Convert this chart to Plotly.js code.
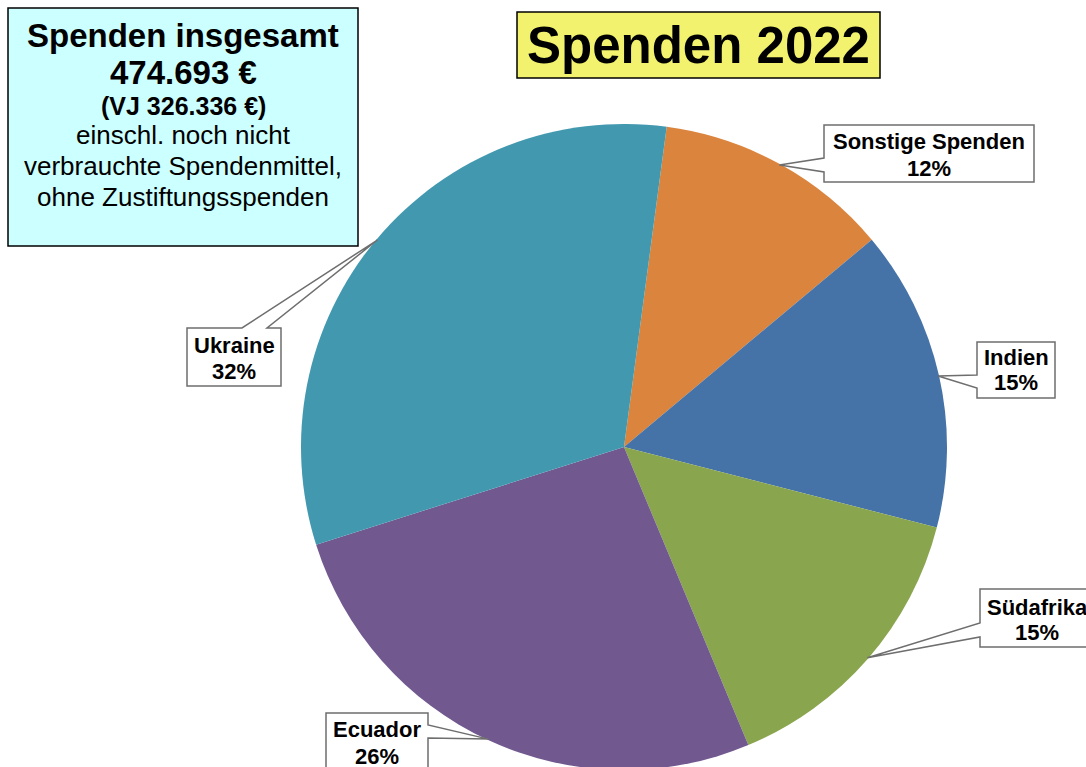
<!DOCTYPE html>
<html><head><meta charset="utf-8">
<script src="https://cdn.plot.ly/plotly-3.0.1.min.js"></script>
<style>html,body{margin:0;padding:0;overflow:hidden;background:#fff}#wrap{width:1086px;height:767px;overflow:hidden}#chart{width:1086px;height:790px}</style>
</head><body><div id="wrap"><div id="chart"></div></div>
<script>
// ---- data ----
const categories = ['Sonstige Spenden', 'Indien', 'Südafrika', 'Ecuador', 'Ukraine'];
const shares = [11.8, 15.1, 14.7, 26.4, 32.0];
const sliceColors = ['#DB843D', '#4572A7', '#89A54E', '#71588F', '#4198AF'];
const chartTitle = 'Spenden 2022';
const infoLines = ['Spenden insgesamt', '474.693 €', '(VJ 326.336 €)', 'einschl. noch nicht', 'verbrauchte Spendenmittel,', 'ohne Zustiftungsspenden'];

// ---- layout geometry (pixels) ----
const W = 1086, H = 790;
const cx = 624, cy = 447, R = 323;
const rotation = 7.6;
const px = x => x / W;
const py = y => 1 - y / H;
const FONT = 'Arial, "Liberation Sans", sans-serif';

const total = shares.reduce((a, b) => a + b, 0);
let cum = 0;
const tips = shares.map(v => {
  const a = (rotation + (cum + v / 2) / total * 360) * Math.PI / 180;
  cum += v;
  return [cx + (R - 1) * Math.sin(a), cy - (R - 1) * Math.cos(a)];
});

// callout outlines: null marks the point where the pointer tip goes
const callouts = [
  {pts: [[824,125],[1034,125],[1034,182],[824,182],[824,172],null,[824,158]], tx: 929, ty: [141,168]},
  {pts: [[977,342],[1055,342],[1055,398],[977,398],[977,388],null,[977,375]], tx: 1016, ty: [357,383]},
  {pts: [[980,589],[1110,589],[1110,647],[980,647],[980,637],null,[980,623]], tx: 1037, ty: [607,632]},
  {pts: [[326,713],[428,713],[428,725],null,[428,738],[428,800],[326,800]], tx: 377, ty: [729,756]},
  {pts: [[187,328],[242,328],null,[267,328],[281,328],[281,386],[187,386]], tx: 234, ty: [345,371]}
];

const shapes = [
  {type:'rect', xref:'paper', yref:'paper', x0:px(8), x1:px(358), y0:py(8), y1:py(246),
   fillcolor:'#CCFFFF', line:{color:'#000', width:1.5}, layer:'above'},
  {type:'rect', xref:'paper', yref:'paper', x0:px(517), x1:px(880), y0:py(12), y1:py(78),
   fillcolor:'#F2F26E', line:{color:'#000', width:1.5}, layer:'above'}
];
const annotations = [];
function txt(x, y, text, size) {
  annotations.push({xref:'paper', yref:'paper', x:px(x), y:py(y), text:text, showarrow:false,
    xanchor:'center', yanchor:'middle', font:{family:FONT, size:size, color:'#000'}});
}

callouts.forEach((c, i) => {
  const p = c.pts.map(q => q === null ? tips[i] : q);
  const path = 'M ' + p.map(q => px(q[0]) + ',' + py(q[1])).join(' L ') + ' Z';
  shapes.push({type:'path', xref:'paper', yref:'paper', path:path, fillcolor:'#FFFFFF',
    line:{color:'#6E6E6E', width:1.5}, layer:'above'});
  const pct = Math.round(shares[i] / total * 100) + '%';
  txt(c.tx, c.ty[0], '<b>' + categories[i] + '</b>', 22);
  txt(c.tx, c.ty[1], '<b>' + pct + '</b>', 22);
});

txt(698, 46, '<b>' + chartTitle + '</b>', 51);
const infoY = [35, 72, 106, 135, 166, 197];
const infoSize = [33, 33, 25, 26, 26, 26];
infoLines.forEach((t, i) => txt(183, infoY[i], i < 3 ? '<b>' + t + '</b>' : t, infoSize[i]));

const trace = {
  type:'pie', labels:categories, values:shares, sort:false, direction:'clockwise',
  rotation:rotation, textinfo:'none', hoverinfo:'label+percent',
  marker:{colors:sliceColors, line:{width:0}},
  domain:{x:[px(cx - R), px(cx + R)], y:[py(cy + R), py(cy - R)]},
  showlegend:false
};

Plotly.newPlot('chart', [trace], {
  width:W, height:H, margin:{l:0, r:0, t:0, b:0},
  paper_bgcolor:'#FFFFFF', plot_bgcolor:'#FFFFFF',
  showlegend:false, shapes:shapes, annotations:annotations,
  font:{family:FONT}
}, {displayModeBar:false, staticPlot:true});
</script>
</body></html>
